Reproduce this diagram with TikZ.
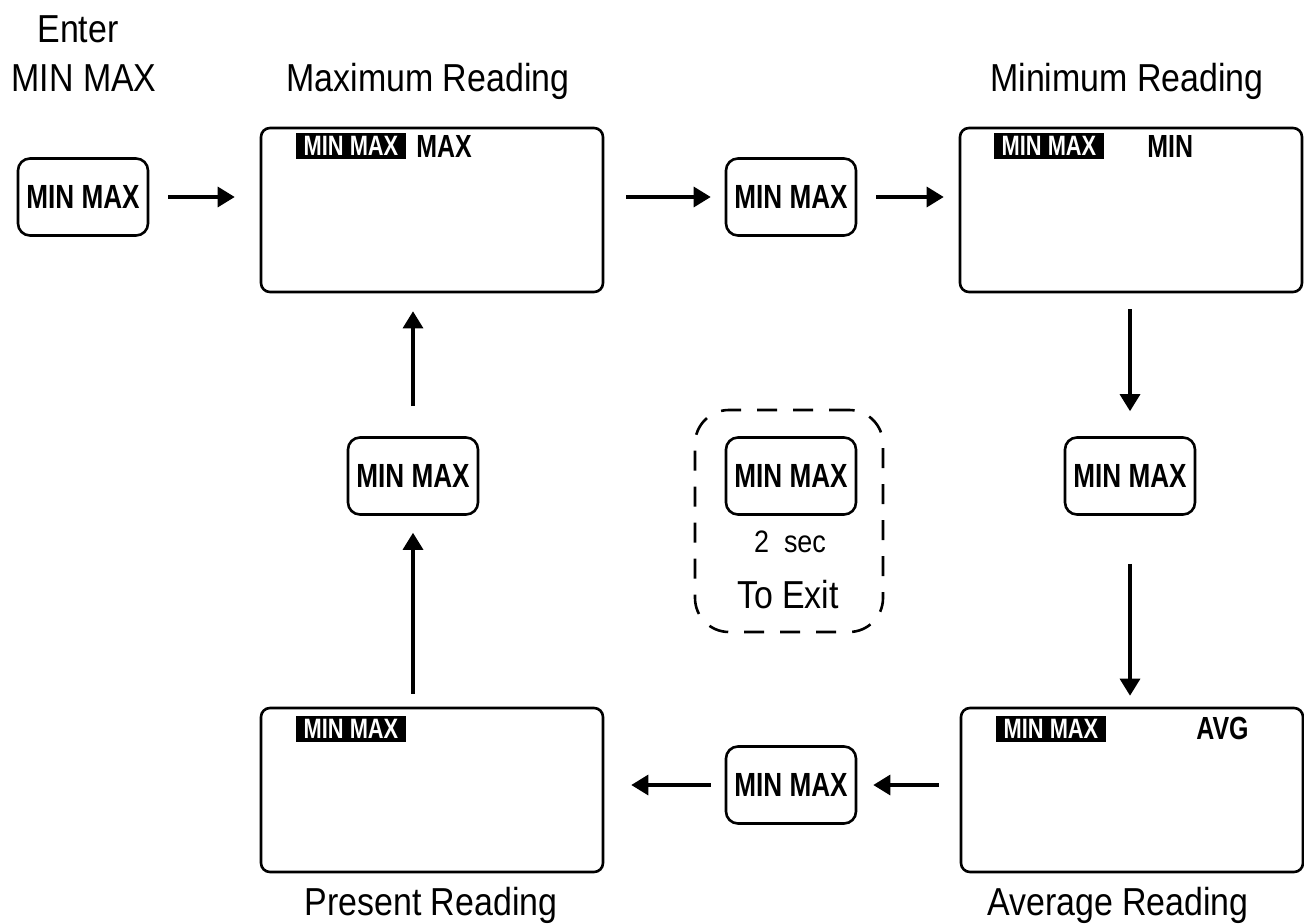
\documentclass[tikz,border=0pt]{standalone}
\usepackage{fontspec}
\setmainfont{Liberation Sans}[FakeStretch=0.87,BoldFeatures={FakeStretch=0.78}]
\usetikzlibrary{arrows.meta}
\tikzset{
  btn/.style={draw,line width=1.3pt,rounded corners=6pt,minimum width=65pt,minimum height=38.5pt,inner sep=0pt,font=\fontsize{16.75}{18}\selectfont\bfseries},
  lcd/.style={draw,line width=1.3pt,rounded corners=4.5pt,minimum width=171pt,minimum height=82pt,inner sep=0pt},
  tag/.style={fill=black,text=white,minimum width=55pt,minimum height=13pt,inner sep=0pt,font=\fontsize{14}{15}\selectfont\bfseries},
  mode/.style={anchor=base west,inner sep=0pt,font=\fontsize{16}{17}\selectfont\bfseries},
  heading/.style={anchor=base,inner sep=0pt,font=\fontsize{19.5}{21}\selectfont},
  flow/.style={->,>={Triangle[length=8.5pt,width=10pt]},line width=1.6pt},
  exitframe/.style={draw,dash pattern=on 10pt off 8pt,line width=1.3pt,rounded corners=17pt,minimum width=94pt,minimum height=111pt}
}
\begin{document}
\begin{tikzpicture}[x=0.5pt,y=-0.5pt]
\useasboundingbox (0,0) rectangle (1304,924);
\node[heading] (enter) at (78,43) {Enter};
\node[heading] (entermm) at (84,92) {MIN MAX};
\node[heading] (maxttl) at (428,92) {Maximum Reading};
\node[heading] (minttl) at (1127,92) {Minimum Reading};
\node[heading] (prsttl) at (431,915) {Present Reading};
\node[heading] (avgttl) at (1118,915) {Average Reading};
\node[btn] (enterbtn) at (83,197) {MIN MAX};
\node[lcd] (maxlcd) at (432,210) {};
\node[tag] (maxtag) at (351,146) {MIN MAX};
\node[mode] (maxmode) at (416,158) {MAX};
\node[btn] (btnA) at (791,197) {MIN MAX};
\node[lcd] (minlcd) at (1131,210) {};
\node[tag] (mintag) at (1049,146) {MIN MAX};
\node[mode] (minmode) at (1147,158) {MIN};
\node[btn] (btnB) at (1130,476) {MIN MAX};
\node[lcd] (avglcd) at (1132,790) {};
\node[tag] (avgtag) at (1051,729) {MIN MAX};
\node[mode] (avgmode) at (1196,739) {AVG};
\node[btn] (btnC) at (791,785) {MIN MAX};
\node[lcd] (prslcd) at (432,790) {};
\node[tag] (prstag) at (351,729) {MIN MAX};
\node[btn] (btnD) at (413,476) {MIN MAX};
\node[exitframe] (exitbox) at (789,521) {};
\node[btn] (btnE) at (791,476) {MIN MAX};
\node[heading,font=\fontsize{15.5}{17}\selectfont] (hold) at (790,552) {2~~sec};
\node[heading] (toexit) at (788,608) {To Exit};
\draw[flow,shorten <=9.5pt,shorten >=12.5pt] (enterbtn.east) -- (enterbtn.east -| maxlcd.west);
\draw[flow,shorten <=11pt,shorten >=7pt] (maxlcd.east |- btnA) -- (btnA.west);
\draw[flow,shorten <=9.5pt,shorten >=7.5pt] (btnA.east) -- (btnA.east -| minlcd.west);
\draw[flow,shorten <=8pt,shorten >=12.5pt] (minlcd.south -| btnB) -- (btnB.north);
\draw[flow,shorten <=24pt,shorten >=5.5pt] (btnB.south) -- (btnB.south |- avglcd.north);
\draw[flow,shorten <=10.5pt,shorten >=8pt] (avglcd.west |- btnC) -- (btnC.east);
\draw[flow,shorten <=7pt,shorten >=13.5pt] (btnC.west) -- (btnC.west -| prslcd.east);
\draw[flow,shorten <=6.5pt,shorten >=8.5pt] (prslcd.north -| btnD) -- (btnD.south);
\draw[flow,shorten <=15pt,shorten >=9pt] (btnD.north) -- (btnD.north |- maxlcd.south);
\end{tikzpicture}
\end{document}
